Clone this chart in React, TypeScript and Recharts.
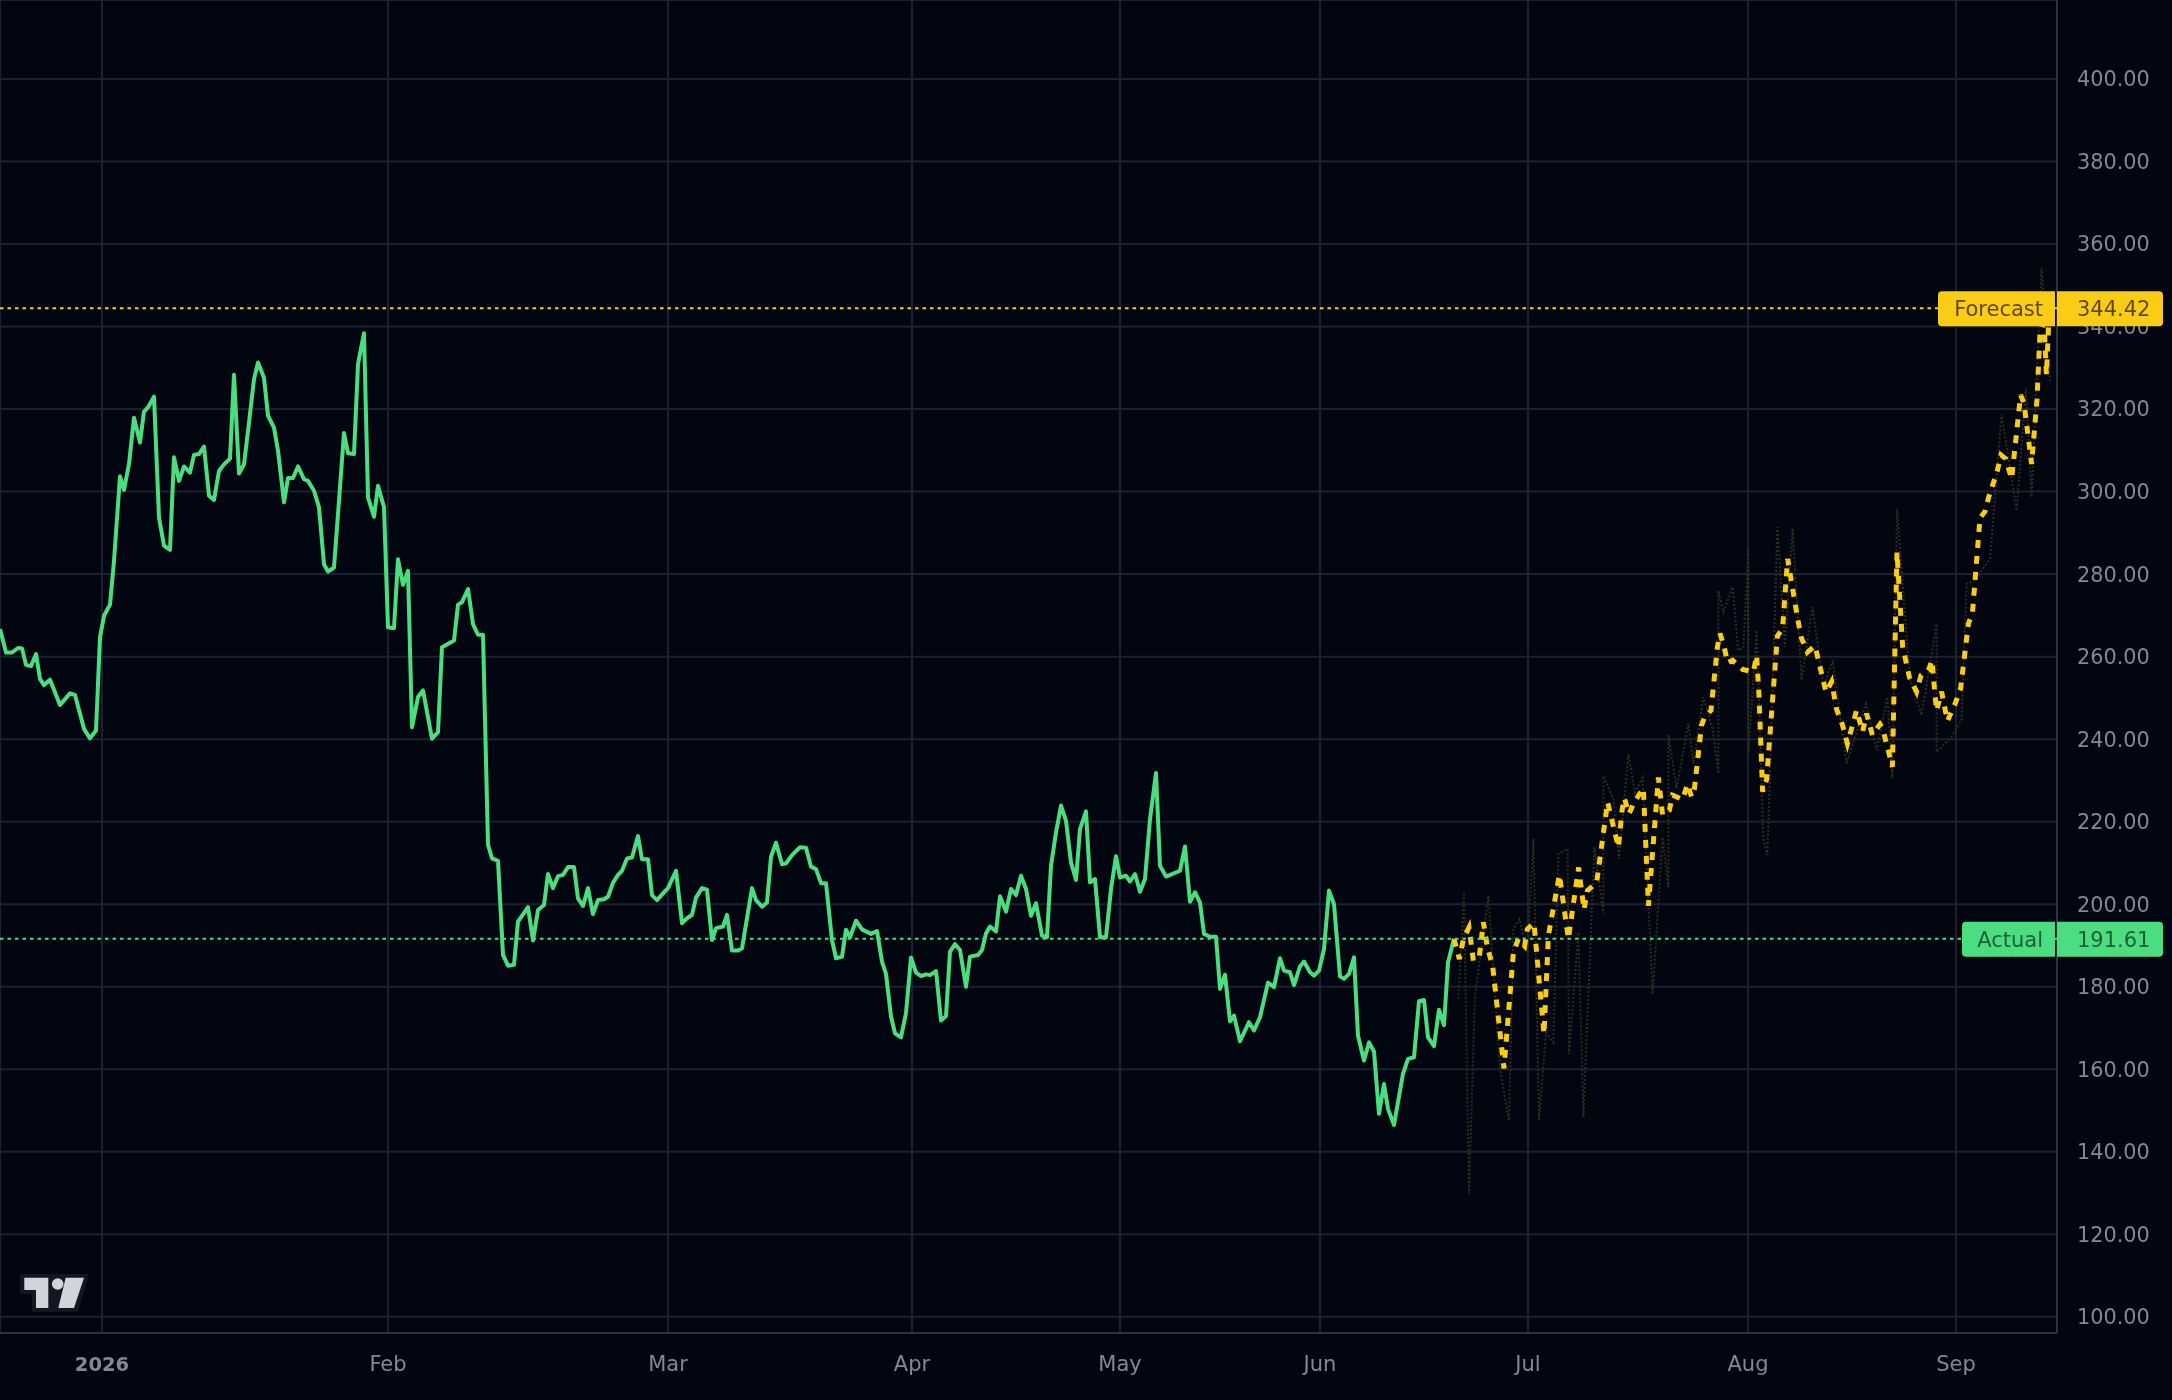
// Price chart with actual and forecast series, TradingView style
import React from 'react';
import { LineChart, Line, XAxis, YAxis, CartesianGrid, ReferenceLine } from 'recharts';

const priceTicks = [100, 120, 140, 160, 180, 200, 220, 240, 260, 280, 300, 320, 340, 360, 380, 400];
const monthTicks = [51, 194, 334, 456, 560, 660, 764, 874, 978];
const monthLabels = ['2026', 'Feb', 'Mar', 'Apr', 'May', 'Jun', 'Jul', 'Aug', 'Sep'];

const actualBars = [
  0, 3, 6, 9, 11, 13, 15.5, 18, 20, 22, 25, 30, 35, 37.5, 42, 45, 48, 50, 52, 55, 57, 60, 62, 64.5, 67, 70, 72, 74, 77,
  79.5, 82, 85, 87, 89.5, 92, 95, 97, 99.5, 102, 104.5, 107, 109.5, 112, 115, 117, 119.5, 122, 124, 127, 129, 132, 134,
  137, 139, 142, 144, 146.5, 149, 152, 154, 157, 159.5, 162, 164, 167, 169.5, 172, 174, 177, 179, 182, 184, 187, 189,
  192, 194, 197, 199, 201.5, 204, 206, 209, 211.5, 216, 219, 221, 227, 229, 231, 234, 236.5, 239, 241.5,
  244, 246, 249, 251.5, 254, 257, 259, 264, 266.5, 269, 272, 274, 276.5, 279, 281.5, 284, 287, 289, 291.5, 294, 296.5,
  299, 302, 304, 306.5, 309, 311, 313.5, 316, 319, 321, 324, 326, 328.5, 331.5, 334, 338, 341, 343.5, 346, 348, 351,
  353.5, 356, 358, 361.5, 363.5, 366, 369, 371, 376, 378, 381, 383.5, 385.5, 388, 391, 393, 396, 400, 403, 405.5, 408,
  410.5, 413, 416, 418, 421, 423, 425, 428, 431, 435.5, 438.5, 441, 443, 445.5, 447.5, 450.5, 453, 455.5, 458, 460.5,
  463, 465, 468, 470.5, 473, 475, 477.5, 480, 483, 485, 489, 491, 493, 495, 498, 500, 503, 505.5, 508, 510.5, 513,
  515.5, 518, 521, 523.5, 525.5, 528, 530.5, 533, 535.5, 538, 540, 543, 545, 547.5, 550, 553, 555.5, 558, 560, 563,
  565, 567.5, 570, 572.5, 575, 578, 580, 583, 590, 592.5, 595, 597.5, 600, 602, 605, 608, 610, 612.5, 615, 617, 620,
  624.5, 627, 630, 634, 637, 640, 642, 645, 647, 650, 652, 655, 657, 659.5, 662, 664.5, 667, 670, 672, 674.5, 677, 679,
  682, 684.5, 687, 689.5, 692, 694, 697, 701.5, 704, 707, 709.5, 712, 714, 717, 719.5, 722, 724, 727,
];
const actualValues = [
  266.7, 261, 261, 262.1, 262, 258, 257.7, 260.6, 254.6, 253.1, 254.4, 248.3, 251.1, 250.7, 242.5, 240.2, 242.1, 264.7,
  269.9, 272.6, 283.2, 303.7, 300.4, 306.7, 317.9, 311.9, 319.4, 320.4, 323, 293.7, 286.9, 285.9, 308.3, 302.6, 306.1,
  304.6, 308.9, 309.1, 310.9, 299, 298, 305, 306.6, 308, 328.3, 304.4, 306.6, 314.7, 327.2, 331.3, 327.6, 318.4, 315.5,
  309.9, 297.4, 303.3, 303.3, 306.1, 303, 302.6, 300.2, 296.2, 282.4, 280.6, 281.6, 297.8, 314.2, 309.3, 309.1, 330.9,
  338.4, 298.6, 293.9, 301.4, 296.2, 267.1, 266.9, 283.6, 277.4, 280.8, 242.9, 250.2, 251.8, 240.1, 241.7, 262.3, 263.9,
  272.6, 273.2, 276.4, 267.9, 265.3, 265.3,
  214.4, 211.1, 210.5, 187.7, 185.1, 185.3, 195.8, 199.3, 191.2, 198.6, 199.8, 207.3, 203.9, 206.8, 207.1, 209, 209,
  201.4, 199.6, 203.9, 197.6, 201, 201.2, 201.8, 205.2, 207.1, 208.1, 211.1, 211.3, 216.5, 210.9, 210.9, 202.2, 201,
  202.6, 203.9, 208.1, 195.4, 196.6, 197.4, 201.6, 203.9, 203.5, 191.3, 194.2, 194.6, 197.4, 188.8, 188.8, 189.3, 203.9,
  201, 199.4, 200.4, 211.5, 214.9, 209.7, 209.9, 211.9, 213.8, 213.7, 209.1, 208.5, 205.1, 205.1, 191.3, 186.9, 187.3,
  193.8, 192, 196, 193.9, 192.8, 193.5, 186.1, 183.1, 172.8, 168.7, 167.7, 173.6, 187.1, 183.4, 182.6, 183, 182.8, 183.8,
  171.8, 172.9, 188.5, 190.3, 188.9, 180, 187.3, 187.7, 188.9, 192.9, 194.6, 193.4, 201.9, 198.2, 203.7, 202.2, 206.9,
  203.7, 197.2, 200.2, 192.4, 192, 209.3, 217.4, 223.9, 220.2, 210.1, 205.9, 218.2, 222.5, 205.3, 206.1, 192, 192, 203.7,
  211.6, 206.5, 206.9, 205.5, 207.3, 203, 206.1, 220.6, 231.8, 209.3, 206.7, 208.1, 214, 200.6, 202.9, 200.4, 192.8,
  192.1, 192.1, 179.5, 182.9, 171.6, 173, 166.8, 171.4, 169.4, 172.6, 181, 179.9, 186.9, 183.9, 183.5, 180.4, 184.9,
  186.1, 183.5, 182.7, 183.9, 189.1, 203.3, 200, 182.5, 181.9, 183.1, 187.1, 168.1, 162.1, 166.5, 164.3, 149.2, 156.4,
  150.4, 146.5, 158.9, 162.5, 162.9, 176.5, 176.8, 167.7, 165.6, 174.4, 170.7, 185.9, 191.61,
];

const forecastBars = [
  727, 729.7, 731.7, 734.5, 736.7, 739.7, 741.7, 743.8, 746.3, 752, 756.7, 759.2, 762.3, 763.7, 767, 772, 774.2, 779.7,
  784.2, 789.3, 792, 793.7, 798.3, 803.8, 809.2, 811, 812.2, 814.5, 817.2, 821.7, 824.2, 829.2, 831.3, 834.7, 836.3,
  841.3, 843.7, 845.8, 847.2, 850.8, 852.5, 855.5, 858.7, 860, 862, 863.8, 866.3, 871.3, 876.7, 878.3, 879.5, 881.3,
  883.3, 888.7, 891.3, 893.8, 899.2, 900.8, 903.7, 907.5, 913, 915.8, 918.3, 921.2, 923.7, 928.3, 931.3, 933.3, 936.2,
  940, 941.3, 946.2, 948.5, 951.3, 954.7, 958.3, 960.5, 964.2, 966, 967.5, 968.3, 970.8, 973.7, 977.5, 980.3, 984.2,
  986.2, 990, 992.5, 994.3, 998.7, 1000.5, 1002.8, 1005.8, 1010.3, 1012, 1015.8, 1018.5, 1020, 1022, 1023.2, 1024.7,
];
const forecastValues = [
  191.61, 186.7, 191.6, 194.4, 186.3, 187.5, 195.6, 189.3, 185.1, 160.2, 188.3, 191.6, 189.9, 194, 195.4, 168.5, 192.4,
  207.1, 191.6, 208.9, 198.7, 203.3, 205.2, 224.7, 213.8, 222.7, 225.7, 221.9, 224.8, 228.1, 199.6, 230.7, 221.6, 222.8,
  226.4, 225.4, 229.1, 226, 228, 243.4, 245.6, 247, 262.3, 265.6, 262.6, 258.5, 259.1, 256.9, 256.3, 260.3, 250.6, 227.3,
  230.2, 265, 266.9, 283.7, 268.2, 264.4, 261.1, 262.6, 251.4, 253.9, 247.2, 243.5, 238.9, 247, 241.8, 246.2, 241, 243.6,
  242.6, 233.3, 285.3, 262.6, 255, 251.5, 255.5, 256.7, 259.1, 250.7, 246.9, 251.5, 244.4, 248.5, 252.3, 268, 270.4,
  293.6, 295.2, 298.6, 305.1, 308.9, 308, 303.1, 323.4, 321.4, 306.7, 322.4, 338.5, 340.9, 328.3, 344.42,
];

const rangeBars = [
  729.2, 732, 734.5, 737.5, 744.2, 750, 754.5, 756.7, 759.7, 763.7, 766.7, 769.5, 773, 776.7, 779.2, 783.8, 784.5, 789.2,
  791.7, 797.2, 801.7, 801.7, 806.7, 809.5, 814.2, 817.5, 821.3, 826.3, 831.3, 834.2, 834.2, 838.3, 844.2, 846.7, 851.7,
  856.3, 859.2, 859.2, 861.7, 866.3, 869.2, 871.7, 874.2, 874.2, 878.3, 881.7, 883.7, 888.7, 892.5, 896.3, 900.8, 906.3,
  911.7, 916.3, 923.3, 933, 938.3, 943.7, 946.2, 948.5, 955, 960.8, 968.3, 968.3, 975.8, 980.8, 983.3, 987.5, 995, 1000.8,
  1008.3, 1013, 1015.8, 1020.8, 1025,
];
const rangeValues = [
  177, 202.9, 129.8, 177.8, 202.1, 160, 147.5, 194, 196.4, 188.3, 215.8, 147.5, 168.9, 166.5, 212.2, 213.4, 163.7, 193.2,
  148.4, 213.8, 197.6, 231.1, 225.5, 211, 236.4, 227.1, 230.7, 178.2, 216.2, 204.1, 241, 228.1, 243.8, 234.1, 250.2,
  242.6, 231.7, 276, 270.8, 276.9, 261.5, 262.3, 286.1, 236.5, 266.4, 215.6, 211.9, 291.4, 262.3, 291, 254.3, 272, 252.7,
  259.1, 234.1, 248.6, 237.3, 250.2, 230.5, 295.8, 254.3, 245.8, 268, 236.9, 240.6, 244.6, 277.7, 278.5, 283.7, 318.8,
  295.4, 325, 298.6, 354.2, 326.8,
];

const toRows = (bars: number[], values: number[]) => bars.map((bar, i) => ({ bar, value: values[i] }));

const actualRows = toRows(actualBars, actualValues);
const forecastRows = toRows(forecastBars, forecastValues);
const rangeRows = toRows(rangeBars, rangeValues);

const BAR_DOMAIN: [number, number] = [0, 1028.5];
const PRICE_DOMAIN: [number, number] = [96.07, 419.15];

const BG = '#020611';
const GRID = '#1b2130';
const AXIS = '#2c3442';
const TEXT = '#858894';
const GREEN = '#4ade80';
const YELLOW = '#facc15';
const FONT = '"DejaVu Sans", sans-serif';

// rectangle with only one side rounded
const tagPath = (x: number, y: number, w: number, h: number, r: number, side: 'left' | 'right') =>
  side === 'left'
    ? `M${x + w} ${y}H${x + r}Q${x} ${y} ${x} ${y + r}V${y + h - r}Q${x} ${y + h} ${x + r} ${y + h}H${x + w}Z`
    : `M${x} ${y}H${x + w - r}Q${x + w} ${y} ${x + w} ${y + r}V${y + h - r}Q${x + w} ${y + h} ${x + w - r} ${y + h}H${x}Z`;

const PriceTag = ({ viewBox, name, price, fill, ink, nameWidth }: any) => {
  const right = viewBox.x + viewBox.width;
  const top = viewBox.y - 17;
  return (
    <g fontFamily={FONT} fontSize={21}>
      <path d={tagPath(right - nameWidth - 2, top, nameWidth, 35, 4, 'left')} fill={fill} />
      <path d={tagPath(right, top, 106, 35, 4, 'right')} fill={fill} />
      <text x={right - 14} y={top + 25} textAnchor="end" fill={ink}>{name}</text>
      <text x={right + 20} y={top + 25} fill={ink}>{price}</text>
    </g>
  );
};

const MonthTick = ({ x, y, payload }: any) => {
  const label = monthLabels[monthTicks.indexOf(payload.value)];
  const isYear = label === '2026';
  return (
    <text x={x} y={y + 30} textAnchor="middle" fill={TEXT} fontFamily={FONT} fontSize={isYear ? 19.5 : 21}
      fontWeight={isYear ? 700 : 400}>
      {label}
    </text>
  );
};

const Watermark = () => (
  <svg width={80} height={50} style={{ position: 'absolute', left: 18, top: 1270 }}>
    <path d="M2 4H71L60 41.700H14V24H2Z" fill="#131722" />
    <path d="M6.300 7.700H30.300V38H18V20H6.300Z" fill="#d1d4dc" />
    <circle cx={39.700} cy={14} r={5.800} fill="#d1d4dc" />
    <path d="M47.700 7.700H66L56 38H40.300Z" fill="#d1d4dc" />
  </svg>
);

export default function App() {
  return (
    <div style={{ position: 'absolute', left: 0, top: 0, width: 2172, height: 1400, background: BG, overflow: 'hidden', filter: 'blur(0.5px)' }}>
      <LineChart width={2172} height={1400} margin={{ top: 0, right: 0, bottom: 0, left: 0 }}>
        <CartesianGrid stroke={GRID} strokeWidth={2} />
        <XAxis
          type="number"
          dataKey="bar"
          domain={BAR_DOMAIN}
          ticks={monthTicks}
          allowDataOverflow
          height={67}
          stroke={AXIS}
          strokeWidth={2}
          tickLine={false}
          tick={<MonthTick />}
        />
        <YAxis
          orientation="right"
          type="number"
          dataKey="value"
          domain={PRICE_DOMAIN}
          ticks={priceTicks}
          allowDataOverflow
          width={115}
          stroke={AXIS}
          strokeWidth={2}
          tickLine={false}
          tickMargin={14}
          tickFormatter={(v: number) => v.toFixed(2)}
          tick={{ fill: TEXT, fontFamily: FONT, fontSize: 20.8 }}
        />
        <Line data={rangeRows} dataKey="value" stroke="#2e2d1e" strokeWidth={2} strokeDasharray="2 2" dot={false} activeDot={false} isAnimationActive={false} />
        <Line data={actualRows} dataKey="value" stroke={GREEN} strokeWidth={4} strokeLinejoin="round" dot={false} activeDot={false} isAnimationActive={false} />
        <Line data={forecastRows} dataKey="value" stroke={YELLOW} strokeWidth={5} strokeDasharray="8 8" dot={false} activeDot={false} isAnimationActive={false} />
      </LineChart>

      {/* second chart on the same scales so the price tags sit above the axis text */}
      <div style={{ position: 'absolute', left: 0, top: 0, pointerEvents: 'none' }}>
        <LineChart width={2172} height={1400} margin={{ top: 0, right: 115, bottom: 67, left: 0 }} data={forecastRows}>
          <XAxis hide type="number" dataKey="bar" domain={BAR_DOMAIN} allowDataOverflow />
          <YAxis hide type="number" domain={PRICE_DOMAIN} allowDataOverflow />
          <ReferenceLine y={344.42} stroke={YELLOW} strokeWidth={2} strokeDasharray="3.500 4"
            label={<PriceTag name="Forecast" price="344.42" fill={YELLOW} ink="#5c4a08" nameWidth={117} />} />
          <ReferenceLine y={191.61} stroke={GREEN} strokeWidth={2} strokeDasharray="3.500 4"
            label={<PriceTag name="Actual" price="191.61" fill={GREEN} ink="#1d5e3a" nameWidth={93} />} />
        </LineChart>
      </div>
      <Watermark />
    </div>
  );
}
